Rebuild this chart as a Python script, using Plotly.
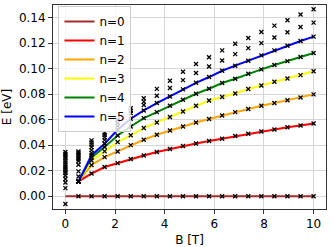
import plotly.graph_objects as go

# Magnetic field values [T]
B = [0.0, 0.526, 1.053, 1.579, 2.105, 2.632, 3.158, 3.684, 4.211, 4.737,
     5.263, 5.789, 6.316, 6.842, 7.368, 7.895, 8.421, 8.947, 9.474, 10.0]

# Landau level lines E_n(B) [eV]
E_n0 = [0.0] * 20
E_n1 = [None, 0.0116, 0.0178, 0.0229, 0.0260, 0.0292, 0.0320, 0.0347, 0.0370, 0.0394,
        0.0414, 0.0433, 0.0451, 0.0473, 0.0490, 0.0508, 0.0524, 0.0541, 0.0555, 0.0570]
E_n2 = [None, 0.0116, 0.0245, 0.0307, 0.0351, 0.0401, 0.0443, 0.0482, 0.0516, 0.0547,
        0.0578, 0.0606, 0.0633, 0.0660, 0.0684, 0.0710, 0.0731, 0.0753, 0.0775, 0.0799]
E_n3 = [None, 0.0116, 0.0280, 0.0352, 0.0425, 0.0478, 0.0535, 0.0579, 0.0621, 0.0665,
        0.0710, 0.0751, 0.0779, 0.0806, 0.0841, 0.0869, 0.0898, 0.0924, 0.0950, 0.0980]
E_n4 = [None, 0.0116, 0.0305, 0.0386, 0.0477, 0.0547, 0.0613, 0.0660, 0.0710, 0.0757,
        0.0804, 0.0843, 0.0888, 0.0922, 0.0961, 0.0995, 0.1029, 0.1060, 0.1092, 0.1124]
E_n5 = [None, 0.0116, 0.0322, 0.0412, 0.0522, 0.0608, 0.0673, 0.0731, 0.0783, 0.0838,
        0.0890, 0.0935, 0.0984, 0.1024, 0.1063, 0.1105, 0.1144, 0.1180, 0.1218, 0.1252]

# Additional numerical eigenvalues at each B (beyond the plotted levels) [eV]
extra_levels = [
    [-0.0061, 0.0064, 0.0108, 0.0135, 0.0163, 0.0182, 0.0196, 0.0213, 0.0229,
     0.0247, 0.0265, 0.0281, 0.0300, 0.0315, 0.0331, 0.0347],
    [0.0155, 0.0195, 0.0247, 0.0276, 0.0292, 0.0307, 0.0323, 0.0339, 0.0351],
    [0.0340, 0.0362, 0.0385, 0.0405, 0.0422, 0.0438],
    [0.0440, 0.0462, 0.0480, 0.0497],
    [0.0553, 0.0574, 0.0600],
    [0.0652, 0.0671, 0.0690],
    [0.0716, 0.0742, 0.0768],
    [0.0788, 0.0842],
    [0.0849, 0.0906],
    [0.0911, 0.0977],
    [0.0966, 0.1037],
    [0.1018, 0.1090],
    [0.1065, 0.1144],
    [0.1115, 0.1196],
    [0.1162, 0.1241],
    [0.1201, 0.1288],
    [0.1245, 0.1338],
    [0.1286, 0.1380],
    [0.1328, 0.1425],
    [0.1362, 0.1467],
]

labels = ["n=0", "n=1", "n=2", "n=3", "n=4", "n=5"]
colors = ["#a52a2a", "#ff0000", "#ffa500", "#ffff00", "#008000", "#0000ff"]
lines = [E_n0, E_n1, E_n2, E_n3, E_n4, E_n5]

fig = go.Figure()
for lab, col, ys in zip(labels, colors, lines):
    fig.add_trace(go.Scatter(x=B, y=ys, mode="lines", name=lab,
                             line=dict(color=col, width=2)))

# markers: eigenvalues
mx, my = [], []
for i, b in enumerate(B):
    if i > 0:
        for ys in lines:
            if ys[i] is not None:
                mx.append(b)
                my.append(ys[i])
    for e in extra_levels[i]:
        mx.append(b)
        my.append(e)
fig.add_trace(go.Scatter(x=mx, y=my, mode="markers", showlegend=False,
                         marker=dict(symbol="x-thin", size=4, color="black",
                                     line=dict(width=1.3, color="black"))))

axis_common = dict(showgrid=True, gridcolor="#d6d6d6", gridwidth=1,
                   zeroline=False, showline=True, mirror=True,
                   linecolor="#333333", linewidth=1, automargin=False,
                   ticks="outside", ticklen=4, tickcolor="#333333",
                   tickfont=dict(size=12, color="black"))

fig.update_layout(
    width=332, height=247,
    margin=dict(l=53, r=6, t=5, b=38),
    paper_bgcolor="white", plot_bgcolor="white",
    font=dict(family="DejaVu Sans", size=12, color="black"),
    legend=dict(x=0.02, y=0.995, xanchor="left", yanchor="top",
                bgcolor="rgba(255,255,255,0.8)", bordercolor="#cccccc",
                borderwidth=1, font=dict(size=12), tracegroupgap=0,
                itemwidth=30),
    xaxis=dict(range=[-0.5, 10.5], tickvals=[0, 2, 4, 6, 8, 10],
               title=dict(text="B [T]", font=dict(size=12)),
               **axis_common),
    yaxis=dict(range=[-0.01, 0.15], tickvals=[0, 0.02, 0.04, 0.06, 0.08, 0.10, 0.12, 0.14],
               tickformat=".2f",
               title=dict(text="E [eV]", font=dict(size=12)),
               **axis_common),
)

fig.write_html("out.html", config={"displayModeBar": False},
               post_script="document.body.style.margin='0';document.body.style.padding='0';")
